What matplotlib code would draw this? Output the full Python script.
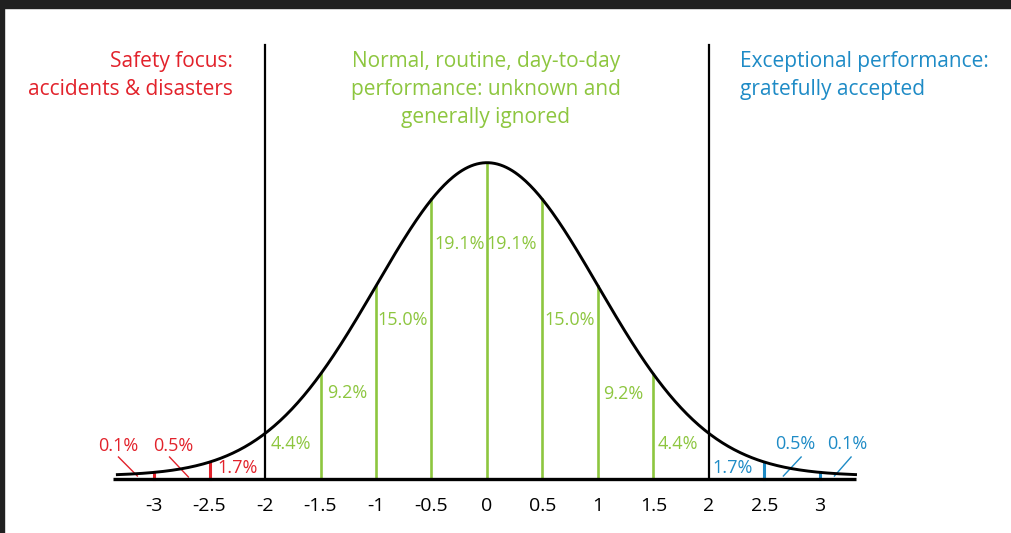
import numpy as np
import matplotlib
matplotlib.use("Agg")
import matplotlib.pyplot as plt
from matplotlib.patches import Rectangle

plt.rcParams['font.family'] = ['Open Sans', 'DejaVu Sans']

# ---- data ----
tick_values = [-3, -2.5, -2, -1.5, -1, -0.5, 0, 0.5, 1, 1.5, 2, 2.5, 3]
tick_labels = ["-3", "-2.5", "-2", "-1.5", "-1", "-0.5", "0", "0.5", "1", "1.5", "2", "2.5", "3"]
boundaries = [-2, 2]
green_lines = [-1.5, -1, -0.5, 0, 0.5, 1, 1.5]
red_lines = [-3, -2.5]
blue_lines = [2.5, 3]
red_pcts = ["0.1%", "0.5%", "1.7%"]
green_pcts = ["4.4%", "9.2%", "15.0%", "19.1%", "19.1%", "15.0%", "9.2%", "4.4%"]
blue_pcts = ["1.7%", "0.5%", "0.1%"]
red_title = ["Safety focus:", "accidents & disasters"]
green_title = ["Normal, routine, day-to-day", "performance: unknown and", "generally ignored"]
blue_title = ["Exceptional performance:", "gratefully accepted"]

RED = "#e2222b"
GREEN = "#8dc63f"
BLUE = "#1e8bc6"
DARK = "#202020"

W, H = 1011, 533
fig = plt.figure(figsize=(W / 100, H / 100), dpi=100)
ax = fig.add_axes([0, 0, 1, 1])
ax.set_axis_off()

# pixel mapping: x=0 at px 487, 111 px per sigma; y=0 at px 479
x0, sx = 487, 111
y0, sy = 479, 785
ax.set_xlim(-x0 / sx, (W - x0) / sx)
ax.set_ylim((y0 - H) / sy, y0 / sy)

def pdf(x):
    return np.exp(-0.5 * np.asarray(x) ** 2) / np.sqrt(2 * np.pi)

def py(p):
    return (y0 - p) / sy

base = 0.004

# frame border
fig.patches.append(Rectangle((0, 1 - 8 / H), 1, 8 / H, transform=fig.transFigure,
                             color=DARK, zorder=10))
fig.patches.append(Rectangle((0, 0), 4 / W, 1, transform=fig.transFigure,
                             color=DARK, zorder=10))

# x axis line
ax.plot([-3.37, 3.32], [0, 0], color="black", lw=2.4, solid_capstyle="butt", zorder=4)

# vertical lines
for v in green_lines:
    ax.plot([v, v], [0, pdf(v) + base], color=GREEN, lw=1.9, zorder=2)
for v in red_lines:
    ax.plot([v, v], [0, pdf(v) + base], color=RED, lw=2.2, zorder=2)
for v in blue_lines:
    ax.plot([v, v], [0, pdf(v) + base], color=BLUE, lw=2.2, zorder=2)
for v in boundaries:
    ax.plot([v, v], [0, py(45)], color="black", lw=1.6, zorder=2)

# curve
xs = np.linspace(-3.33, 3.32, 500)
ax.plot(xs, pdf(xs) + base, color="black", lw=2.1, zorder=3)

# tick labels
for v, t in zip(tick_values, tick_labels):
    ax.text(v, py(506), t, ha="center", va="center", fontsize=14, color="black")

pfs = 13
# red percentages
red_pos = [(-3.32, py(446)), (-2.83, py(446)), (-2.25, py(468))]
for t, (x, y) in zip(red_pcts, red_pos):
    ax.text(x, y, t, ha="center", va="center", fontsize=pfs, color=RED)
# leaders
ax.plot([-3.32, -3.15], [py(457), py(476)], color=RED, lw=1.0)
ax.plot([-2.86, -2.69], [py(457), py(477)], color=RED, lw=1.0)

# green percentages
green_pos = [(-1.95, py(444), "left"), (-1.44, py(393), "left"), (-0.99, py(320), "left"),
             (-0.47, py(244), "left"), (0.45, py(244), "right"), (0.975, py(320), "right"),
             (1.405, py(394), "right"), (1.90, py(444), "right")]
for t, (x, y, ha) in zip(green_pcts, green_pos):
    ax.text(x, y, t, ha=ha, va="center", fontsize=pfs, color=GREEN)

# blue percentages
blue_pos = [(2.216, py(468)), (2.775, py(444)), (3.25, py(444))]
for t, (x, y) in zip(blue_pcts, blue_pos):
    ax.text(x, y, t, ha="center", va="center", fontsize=pfs, color=BLUE)
ax.plot([2.83, 2.67], [py(457), py(476)], color=BLUE, lw=1.0)
ax.plot([3.28, 3.13], [py(457), py(476)], color=BLUE, lw=1.0)

# titles
tfs = 15
for i, t in enumerate(red_title):
    ax.text((233 - x0) / sx, py(61 + 28.5 * i), t, ha="right", va="center",
            fontsize=tfs, color=RED)
for i, t in enumerate(green_title):
    ax.text((486 - x0) / sx, py(61 + 28.5 * i), t, ha="center", va="center",
            fontsize=tfs, color=GREEN)
for i, t in enumerate(blue_title):
    ax.text((740 - x0) / sx, py(61 + 28.5 * i), t, ha="left", va="center",
            fontsize=tfs, color=BLUE)

fig.savefig("out.png", dpi=100)
